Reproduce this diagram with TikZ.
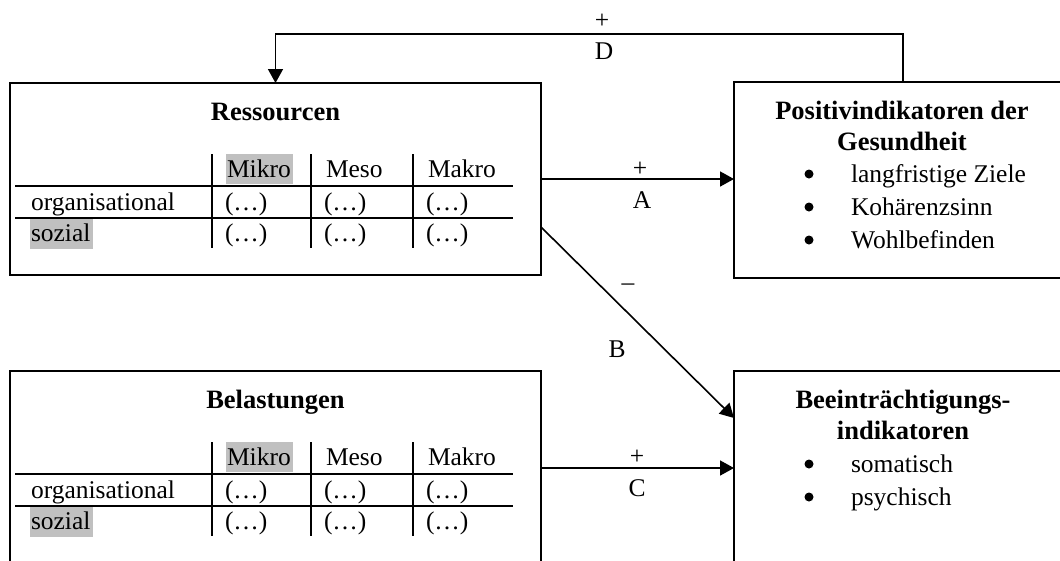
\documentclass[tikz,border=0pt]{standalone}
\usepackage{fontspec}
\setmainfont{Liberation Serif}
\usetikzlibrary{arrows.meta,calc}
\definecolor{hl}{RGB}{192,192,192}
\begin{document}
\begin{tikzpicture}[x=1pt,y=-1pt,
  every node/.style={inner sep=0pt,outer sep=0pt,font=\fontsize{25.5pt}{30pt}\selectfont},
  frame/.style={draw,line width=1.6pt,rectangle,anchor=north west},
  title/.style={anchor=base,font=\fontsize{26.5pt}{30pt}\selectfont\bfseries},
  cell/.style={anchor=base west},
  dot/.style={circle,fill,minimum size=9pt},
  rule/.style={line width=1.6pt},
  arr/.style={line width=1.6pt,-{Triangle[length=14pt,width=15pt]}},
  lbl/.style={anchor=center}
]
\useasboundingbox (0,0) rectangle (1060,560);
\clip (0,0) rectangle (1060,560);

% boxes
\node[frame,minimum width=531pt,minimum height=192pt] (res) at (10,83) {};
\node[frame,minimum width=531pt,minimum height=194pt] (bel) at (10,371) {};
\node[frame,minimum width=338pt,minimum height=196pt] (pos) at (734,82) {};
\node[frame,minimum width=338pt,minimum height=194pt] (bei) at (734,371) {};

% two tables with identical layout, shifted vertically
\foreach \dy/\name/\ttl in {0/r/Ressourcen, 288/b/Belastungen}{
  \node[title] (\name title) at (275.5,120+\dy) {\ttl};
  \fill[hl] (226,154+\dy) rectangle (293,184+\dy);
  \fill[hl] (30,218+\dy) rectangle (93,249+\dy);
  \draw[rule] (15,186+\dy) -- (513,186+\dy);
  \draw[rule] (15,218+\dy) -- (513,218+\dy);
  \foreach \vx in {212,311,413}
    \draw[rule] (\vx,154+\dy) -- (\vx,248+\dy);
  \node[cell] (\name mi) at (227,177+\dy) {Mikro};
  \node[cell] (\name me) at (326,177+\dy) {Meso};
  \node[cell] (\name ma) at (428,177+\dy) {Makro};
  \node[cell] (\name org) at (31,210+\dy) {organisational};
  \node[cell] (\name soz) at (31,241+\dy) {sozial};
  \foreach \vx/\k in {212/1,311/2,413/3}{
    \node[cell] (\name o\k) at (\vx+13,210+\dy) {(…)};
    \node[cell] (\name s\k) at (\vx+13,241+\dy) {(…)};
  }
}

% outcome boxes
\node[title] (pt1) at (902,119) {Positivindikatoren der};
\node[title] (pt2) at (902,150) {Gesundheit};
\foreach \yy/\txt/\k in {182/langfristige Ziele/1, 215/Kohärenzsinn/2, 248/Wohlbefinden/3}{
  \node[dot] (pb\k) at (809,\yy-8) {};
  \node[cell] (pi\k) at (851,\yy) {\txt};
}
\node[title] (bt1) at (903,408) {Beeinträchtigungs-};
\node[title] (bt2) at (903,439) {indikatoren};
\foreach \yy/\txt/\k in {472/somatisch/1, 505/psychisch/2}{
  \node[dot] (bb\k) at (809,\yy-8) {};
  \node[cell] (bi\k) at (851,\yy) {\txt};
}

% connectors
\draw[arr] (pos.north) -- ++(0,-48) -| (res.north);
\draw[arr] (res.east) -- (res.east -| pos.west);
\draw[arr] ($(res.east)+(0,48)$) -- ($(bei.west)+(0,-50)$);
\draw[arr] (bel.east) -- (bel.east -| bei.west);

% connector labels
\node[lbl] (dp) at (602,21) {+};
\node[lbl] (dl) at (604,51) {D};
\node[lbl] (ap) at (640,169) {+};
\node[lbl] (al) at (642,200) {A};
\node[lbl] (bm) at (628,287) {–};
\node[lbl] (bl) at (617,349) {B};
\node[lbl] (cp) at (637,457) {+};
\node[lbl] (cl) at (637,488) {C};
\end{tikzpicture}
\end{document}
